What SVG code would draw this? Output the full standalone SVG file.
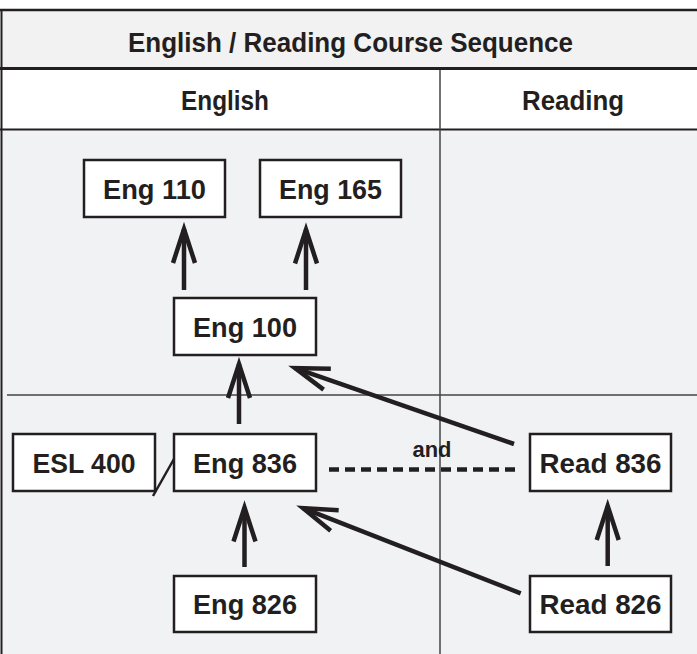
<svg xmlns="http://www.w3.org/2000/svg" width="697" height="654" viewBox="0 0 697 654">
<defs>
<style>
.box{fill:#ffffff;stroke:#231f20;stroke-width:2.5}
.lbl{font-family:"Liberation Sans",Arial,sans-serif;font-size:28px;font-weight:bold;fill:#231f20;text-anchor:middle}
.hdr{font-family:"Liberation Sans",Arial,sans-serif;font-size:27px;font-weight:bold;fill:#231f20;text-anchor:middle}
.arr{stroke:#231f20;stroke-width:4.5;fill:none;marker-end:url(#ah)}
.grid{stroke:#444444;stroke-width:1.5}
</style>
<marker id="ah" markerUnits="userSpaceOnUse" orient="auto" refX="0" refY="0" markerWidth="60" markerHeight="40" overflow="visible">
<path d="M-34,-11 L0,0 L-34,11" fill="none" stroke="#231f20" stroke-width="4.5" stroke-miterlimit="10"/>
</marker>
</defs>
<g id="background">
<rect x="0" y="0" width="697" height="654" fill="#ffffff"/>
<rect x="1" y="10" width="696" height="58" fill="#f2f2f2"/>
<rect x="1" y="70" width="696" height="59" fill="#ffffff"/>
<rect x="1" y="130" width="696" height="524" fill="#f1f2f4"/>
<line x1="0" y1="10" x2="697" y2="10" stroke="#231f20" stroke-width="2.5"/>
<line x1="1.5" y1="10" x2="1.5" y2="654" stroke="#231f20" stroke-width="2"/>
<line x1="0" y1="68.5" x2="697" y2="68.5" stroke="#231f20" stroke-width="3"/>
<line x1="0" y1="129.5" x2="697" y2="129.5" stroke="#231f20" stroke-width="2"/>
<line class="grid" x1="440" y1="70" x2="440" y2="654"/>
<line class="grid" x1="7" y1="395" x2="697" y2="395"/>
<text class="hdr" x="350.5" y="52" textLength="445" lengthAdjust="spacingAndGlyphs">English / Reading Course Sequence</text>
<text class="hdr" x="225" y="110" textLength="88" lengthAdjust="spacingAndGlyphs">English</text>
<text class="hdr" x="573" y="110" textLength="102" lengthAdjust="spacingAndGlyphs">Reading</text>
</g>
<g id="connectors">
<line class="arr" x1="184" y1="290" x2="184" y2="229"/>
<line class="arr" x1="306" y1="290" x2="306" y2="229.5"/>
<line class="arr" x1="239" y1="424" x2="239" y2="364"/>
<line class="arr" x1="244.5" y1="567" x2="244.5" y2="507.5"/>
<line class="arr" x1="607.7" y1="566" x2="607.7" y2="506"/>
<line class="arr" x1="514" y1="444" x2="295.1" y2="368.1"/>
<line class="arr" x1="520.7" y1="593.3" x2="303" y2="508.1"/>
<line x1="329" y1="469.5" x2="516" y2="469.5" stroke="#231f20" stroke-width="4.5" stroke-dasharray="10 6"/>
<line x1="153" y1="496" x2="183" y2="443" stroke="#231f20" stroke-width="2.5"/>
<text x="432" y="457" font-family="'Liberation Sans',Arial,sans-serif" font-size="22" font-weight="bold" fill="#231f20" text-anchor="middle" textLength="39" lengthAdjust="spacingAndGlyphs">and</text>
</g>
<g id="eng110"><rect class="box" x="84" y="160" width="141" height="57"/><text class="lbl" x="154.5" y="199" textLength="103" lengthAdjust="spacingAndGlyphs">Eng 110</text></g>
<g id="eng165"><rect class="box" x="260" y="160" width="141" height="57"/><text class="lbl" x="330.5" y="199" textLength="103" lengthAdjust="spacingAndGlyphs">Eng 165</text></g>
<g id="eng100"><rect class="box" x="174" y="298" width="142" height="57"/><text class="lbl" x="245" y="337" textLength="104" lengthAdjust="spacingAndGlyphs">Eng 100</text></g>
<g id="esl400"><rect class="box" x="13" y="434" width="142" height="57"/><text class="lbl" x="84" y="473" textLength="103" lengthAdjust="spacingAndGlyphs">ESL 400</text></g>
<g id="eng836"><rect class="box" x="174" y="434" width="142" height="57"/><text class="lbl" x="245" y="473" textLength="104" lengthAdjust="spacingAndGlyphs">Eng 836</text></g>
<g id="read836"><rect class="box" x="530" y="434" width="141" height="57"/><text class="lbl" x="600.5" y="473" textLength="122" lengthAdjust="spacingAndGlyphs">Read 836</text></g>
<g id="eng826"><rect class="box" x="174" y="576" width="142" height="56"/><text class="lbl" x="245" y="614" textLength="104" lengthAdjust="spacingAndGlyphs">Eng 826</text></g>
<g id="read826"><rect class="box" x="530" y="576" width="141" height="56"/><text class="lbl" x="600.5" y="614" textLength="122" lengthAdjust="spacingAndGlyphs">Read 826</text></g>
</svg>
